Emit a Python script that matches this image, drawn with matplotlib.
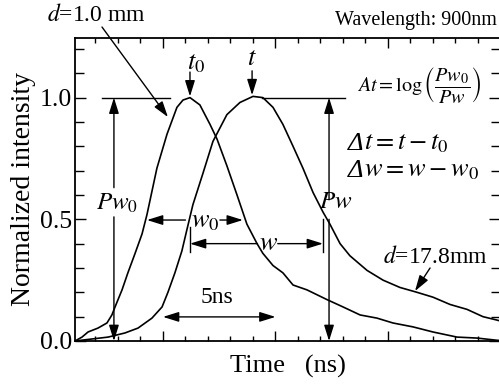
import matplotlib
matplotlib.use('Agg')
import matplotlib.pyplot as plt
from matplotlib.ticker import MultipleLocator, FixedLocator

plt.rcParams['font.family'] = ['Liberation Serif', 'DejaVu Serif']
plt.rcParams['mathtext.fontset'] = 'stix'

# Pulse for d = 1.0 mm (time in ns, normalized intensity)
t_short = [1.09, 1.40, 1.67, 2.11, 2.51, 2.73, 2.87, 3.18, 3.44, 3.76, 4.07, 4.29,
           4.73, 5.18, 5.62, 5.89, 6.20, 6.64, 7.09, 7.40, 7.84, 8.29, 8.73, 9.18,
           9.44, 9.89, 10.33, 10.78, 11.40, 12.29, 13.0, 13.76, 14.51, 15.22,
           16.11, 17.0, 18.07, 18.96, 19.84, 20.0]
i_short = [0.0, 0.016, 0.037, 0.053, 0.074, 0.107, 0.14, 0.21, 0.28, 0.36, 0.44, 0.52,
           0.71, 0.85, 0.96, 0.99, 1.00, 0.97, 0.89, 0.83, 0.72, 0.60, 0.48, 0.40,
           0.36, 0.31, 0.28, 0.23, 0.21, 0.17, 0.14, 0.107, 0.094, 0.074,
           0.058, 0.037, 0.016, 0.012, 0.003, 0.002]

# Pulse for d = 17.8 mm
t_long = [1.09, 2.56, 3.31, 3.89, 4.51, 4.96, 5.22, 5.53, 5.84, 6.07, 6.33, 6.78,
          7.22, 7.84, 8.42, 9.0, 9.44, 9.89, 10.33, 10.78, 11.22, 11.67, 12.11,
          12.42, 12.87, 13.31, 14.07, 14.78, 15.53, 16.29, 17.0, 17.76, 18.51,
          19.22, 19.84, 20.0]
i_long = [0.0, 0.016, 0.033, 0.053, 0.094, 0.14, 0.20, 0.28, 0.37, 0.46, 0.56, 0.69,
          0.82, 0.93, 0.98, 1.005, 1.0, 0.96, 0.89, 0.80, 0.71, 0.61, 0.53,
          0.48, 0.40, 0.35, 0.29, 0.25, 0.22, 0.20, 0.18, 0.15, 0.13,
          0.10, 0.086, 0.082]

y_ticks = [0.0, 0.5, 1.0]
y_labels = ['0.0', '0.5', '1.0']

fig = plt.figure(figsize=(4.99, 3.86), dpi=100)
ax = fig.add_axes([0.1503, 0.1166, 0.8527, 0.785])

ax.plot(t_short, i_short, color='k', lw=1.2)
ax.plot(t_long, i_long, color='k', lw=1.2)

ax.set_xlim(1.09, 20)
ax.set_ylim(0, 1.245)
ax.xaxis.set_major_locator(MultipleLocator(5))
ax.xaxis.set_minor_locator(MultipleLocator(1))
ax.set_xticklabels([])
ax.yaxis.set_major_locator(FixedLocator(y_ticks))
ax.set_yticklabels(y_labels)
ax.yaxis.set_minor_locator(MultipleLocator(0.1))
ax.tick_params(which='both', direction='in', top=True, right=True, width=1.0,
               labelsize=18.5, pad=2)
ax.tick_params(axis='x', which='major', length=7)
ax.tick_params(axis='x', which='minor', length=3.5)
ax.tick_params(axis='y', which='major', length=8)
ax.tick_params(axis='y', which='minor', length=6.5)
for s in ax.spines.values():
    s.set_linewidth(1.3)

ax.set_ylabel('Normalized intensity', fontsize=20, labelpad=3)
ax.set_xlabel('Time   (ns)', fontsize=19, labelpad=8)

head = dict(color='k', lw=1.0, shrinkA=0, shrinkB=0, mutation_scale=12,
            arrowstyle='-|>,head_length=0.8,head_width=0.25')
both = dict(head, arrowstyle='<|-|>,head_length=0.8,head_width=0.25')

def arrow(x0, y0, x1, y1, props=head):
    ax.annotate('', xy=(x1, y1), xytext=(x0, y0), arrowprops=props,
                annotation_clip=False)

# reference lines at the peaks
ax.plot([2.29, 5.31], [1.0, 1.0], color='k', lw=1.0)
ax.plot([9.4, 13.09], [1.0, 1.0], color='k', lw=1.0)

# peak markers
ax.text(6.45, 1.14, '$t_0$', fontsize=19, ha='center', va='center')
arrow(6.2, 1.105, 6.2, 1.005)
ax.text(8.96, 1.16, '$t$', fontsize=19, ha='center', va='center')
arrow(8.96, 1.11, 8.96, 1.01)

# Pw0 and Pw heights
ax.text(2.95, 0.565, '$Pw_0$', fontsize=18, ha='center', va='center')
arrow(2.82, 0.63, 2.82, 1.0)
arrow(2.82, 0.51, 2.82, 0.0)
ax.text(12.7, 0.57, '$Pw$', fontsize=18, ha='center', va='center')
arrow(12.38, 0.58, 12.38, 1.0)
arrow(12.38, 0.50, 12.38, 0.0)

# widths
ax.text(6.9, 0.49, '$w_0$', fontsize=19, ha='center', va='center')
arrow(6.0, 0.497, 4.29, 0.497)
arrow(7.53, 0.497, 8.55, 0.497)
ax.text(9.67, 0.40, '$w$', fontsize=19, ha='center', va='center')
arrow(9.2, 0.40, 6.2, 0.40)
arrow(10.1, 0.40, 12.11, 0.40)
ax.plot([6.2, 6.2], [0.365, 0.468], color='k', lw=1.0)
ax.plot([12.11, 12.11], [0.365, 0.50], color='k', lw=1.0)

# 5 ns scale
ax.text(7.4, 0.18, '5ns', fontsize=17, ha='center', va='center')
arrow(5.0, 0.099, 10.0, 0.099, both)

# curve labels
ax.text(0.095, 0.96, '$d$=1.0 mm', fontsize=17, transform=fig.transFigure,
        ha='left', va='center')
arrow(2.29, 1.29, 5.22, 0.92)
ax.text(17.1, 0.345, '$d$=17.8mm', fontsize=17, ha='center', va='center')
arrow(16.87, 0.30, 16.2, 0.205)

ax.text(0.996, 0.948, 'Wavelength: 900nm', fontsize=14.5, transform=fig.transFigure,
        ha='right', va='center')

# formulas
ax.text(16.4, 1.05, r'$At = \log\left(\dfrac{Pw_0}{Pw}\right)$', fontsize=14.5,
        ha='center', va='center')
for yy, rest in [(0.81, r'$t = t - t_0$'), (0.70, r'$w = w - w_0$')]:
    ax.text(13.2, yy, '\u0394', fontsize=19, style='italic', ha='left', va='center')
    ax.text(13.92, yy, rest, fontsize=19, ha='left', va='center')

fig.savefig('out.png', dpi=100)
